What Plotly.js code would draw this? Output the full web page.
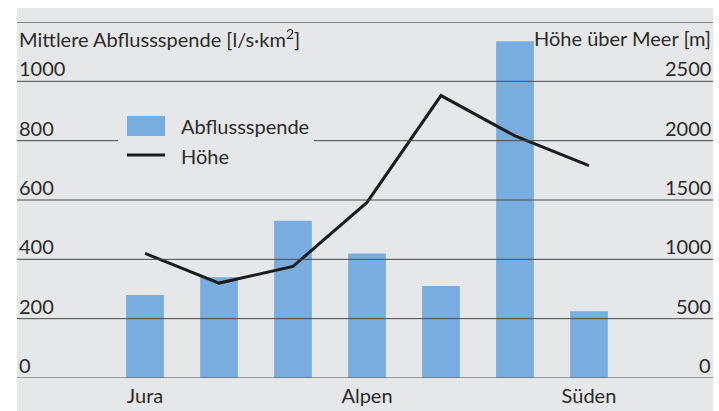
<!DOCTYPE html>
<html>
<head>
<meta charset="utf-8">
<script src="https://cdn.plot.ly/plotly-3.0.1.min.js"></script>
<style>
  html, body { margin: 0; padding: 0; background: #ffffff; }
  #chart { width: 719px; height: 411px; }
</style>
</head>
<body>
<div id="chart"></div>
<script>
// ---- data ----
const positions = [0, 1, 2, 3, 4, 5, 6];
const tickPositions = [0, 3, 6];
const tickLabels = ['Jura', 'Alpen', 'Süden'];
const abflussspende = [280, 340, 530, 420, 310, 1135, 225];   // l/s·km²
const hoehe = [1050, 800, 940, 1480, 2380, 2040, 1790];          // m ü. M.
const leftTicks = [0, 200, 400, 600, 800, 1000];
const rightTicks = [0, 500, 1000, 1500, 2000, 2500];
const gridValues = [0, 200, 400, 600, 800, 1000, 1200];
const seriesNames = ['Abflussspende', 'Höhe'];
const leftTitle = 'Mittlere Abflussspende [l/s·km<sup>2</sup>]';
const rightTitle = 'Höhe über Meer [m]';

// ---- styles ----
const FONT = 'Lato, "Liberation Sans", sans-serif';
const TXT = '#2b2b2b';
const BAR = '#7aaddf';
const BG = '#e6e7e8';
const H = 411, MT = 22, MB = 33, ML = 17, MR = 6;
const PH = H - MT - MB;
const py = px => 1 - (px - MT) / PH; // pixel y -> paper y
const pxX = x => (x - ML) / (719 - ML - MR);

const traces = [
  {
    type: 'bar', x: positions, y: abflussspende, name: seriesNames[0],
    marker: { color: BAR, line: { width: 0 } }, width: 0.51,
    yaxis: 'y', hoverinfo: 'skip'
  },
  {
    type: 'scatter', mode: 'lines', x: positions, y: hoehe, name: seriesNames[1],
    line: { color: '#1c1c1c', width: 3 }, yaxis: 'y2', hoverinfo: 'skip'
  }
];

const shapes = [
  { type: 'rect', xref: 'paper', yref: 'paper', x0: 0, x1: 1, y0: py(H + 2), y1: py(8),
    fillcolor: BG, line: { width: 0 }, layer: 'below' }
];
gridValues.forEach(v => shapes.push({
  type: 'line', xref: 'paper', yref: 'y', x0: 0, x1: 1, y0: v, y1: v,
  line: { color: v === 1200 ? '#1a1a1a' : '#4a4a4a', width: 1 }, layer: 'above'
}));
// legend
const legendBox = { x0: 118, x1: 314, y0: 108, y1: 172 };
shapes.push({ type: 'rect', xref: 'paper', yref: 'paper',
  x0: pxX(legendBox.x0), x1: pxX(legendBox.x1), y0: py(legendBox.y1), y1: py(legendBox.y0),
  fillcolor: BG, line: { width: 0 }, layer: 'above' });
shapes.push({ type: 'rect', xref: 'paper', yref: 'paper',
  x0: pxX(127), x1: pxX(165), y0: py(136), y1: py(116),
  fillcolor: BAR, line: { width: 0 }, layer: 'above' });
shapes.push({ type: 'line', xref: 'paper', yref: 'paper',
  x0: pxX(127), x1: pxX(165), y0: py(155), y1: py(155),
  line: { color: '#1c1c1c', width: 3 }, layer: 'above' });

const tf = { family: FONT, size: 20, color: TXT };
const annotations = [
  { xref: 'paper', yref: 'paper', x: 0, y: py(38), xanchor: 'left', yanchor: 'middle',
    text: leftTitle, showarrow: false, font: tf },
  { xref: 'paper', yref: 'paper', x: 1, y: py(38), xanchor: 'right', yanchor: 'middle',
    text: rightTitle, showarrow: false, font: tf },
  { xref: 'paper', yref: 'paper', x: pxX(179), y: py(126), xanchor: 'left', yanchor: 'middle',
    text: seriesNames[0], showarrow: false, font: tf },
  { xref: 'paper', yref: 'paper', x: pxX(179), y: py(156), xanchor: 'left', yanchor: 'middle',
    text: seriesNames[1], showarrow: false, font: tf }
];
// axis tick labels, placed just above their gridlines through the axes' own scales
leftTicks.forEach(v => annotations.push({
  xref: 'paper', yref: 'y', x: 0, y: v, xanchor: 'left', yanchor: 'middle', yshift: 13,
  text: String(v), showarrow: false, font: tf
}));
rightTicks.forEach(v => annotations.push({
  xref: 'paper', yref: 'y2', x: 1, y: v, xanchor: 'right', yanchor: 'middle', yshift: 13,
  text: String(v), showarrow: false, font: tf
}));

const layout = {
  width: 719, height: 411,
  margin: { l: ML, r: MR, t: MT, b: MB, pad: 0 },
  paper_bgcolor: '#ffffff', plot_bgcolor: 'rgba(0,0,0,0)',
  showlegend: false,
  font: tf,
  xaxis: {
    range: [-1.73, 7.676], tickvals: tickPositions, ticktext: tickLabels,
    showgrid: false, zeroline: false, showline: false, ticks: '',
    ticklabelstandoff: 4, tickfont: tf, fixedrange: true
  },
  yaxis: {
    range: [0, 1200], tickvals: leftTicks, showgrid: false, zeroline: false, showline: false,
    ticks: '', showticklabels: false, fixedrange: true
  },
  yaxis2: {
    range: [0, 3000], tickvals: rightTicks, overlaying: 'y', side: 'right',
    showgrid: false, zeroline: false, showline: false,
    ticks: '', showticklabels: false, fixedrange: true
  },
  shapes: shapes,
  annotations: annotations
};

Plotly.newPlot('chart', traces, layout, { displayModeBar: false, staticPlot: true });
</script>
</body>
</html>
